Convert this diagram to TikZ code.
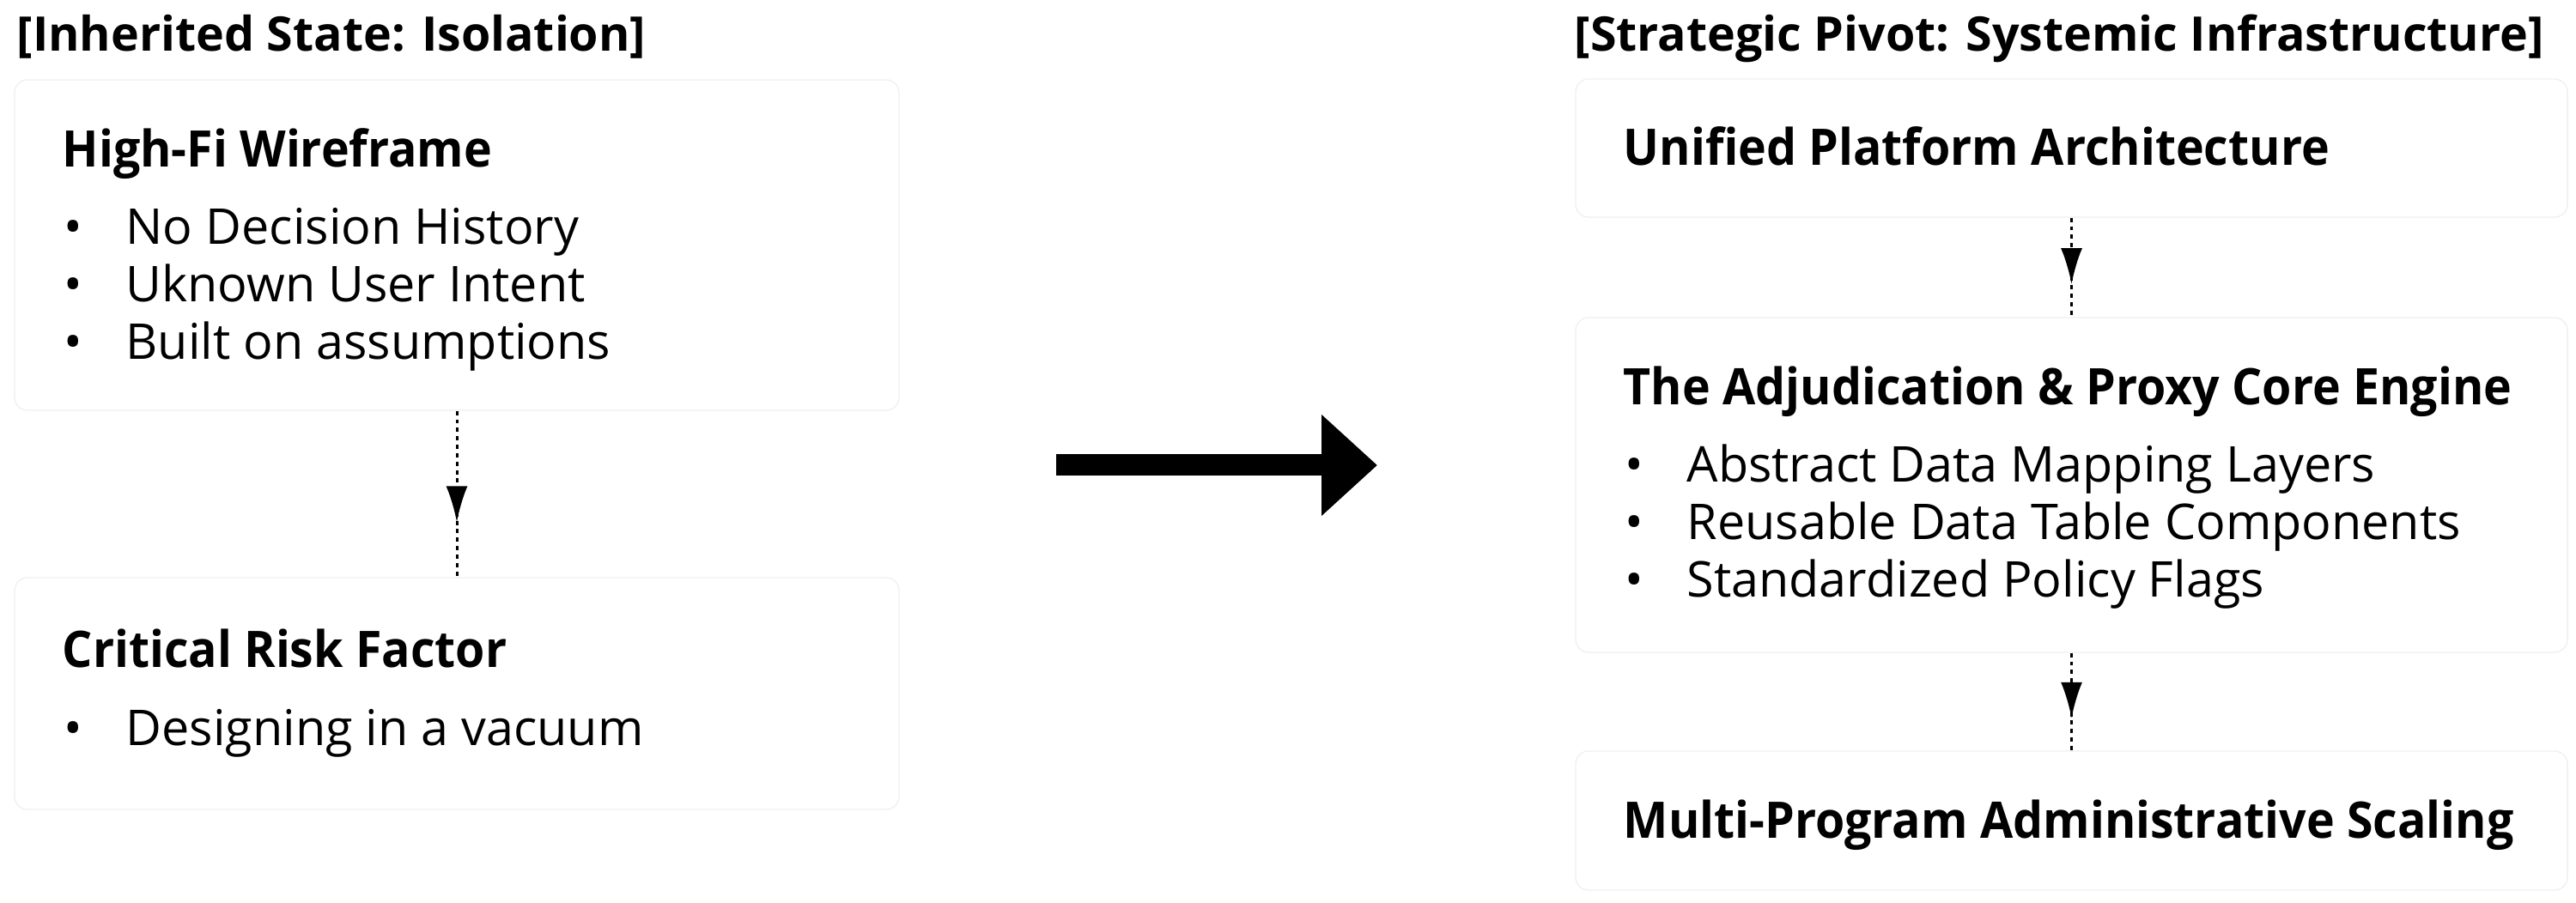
\documentclass[tikz,border=0pt]{standalone}
\usepackage{fontspec}
\setmainfont{Open Sans}
\newfontfamily\headfont{Open Sans}[FakeStretch=0.945]
\usetikzlibrary{arrows.meta, decorations.markings, positioning}

\tikzset{
    card/.style={draw=black!6, line width=0.4pt, rounded corners=1.5mm, inner sep=0pt},
    caption/.style={anchor=base west, inner sep=0pt, font=\bfseries\fontsize{15.8}{18}\selectfont},
    heading/.style={anchor=base west, inner sep=0pt, font=\headfont\bfseries\fontsize{16.7}{20}\selectfont},
    item/.style={anchor=base west, inner sep=0pt, font=\fontsize{16.35}{20}\selectfont},
    flow/.style={line width=0.85pt, dash pattern=on 1.4pt off 1.4pt, postaction={decorate},
        decoration={markings, mark=at position 0.67 with {\arrow{Latex[length=4.2mm,width=2.5mm]}}}},
    pivot/.style={line width=0.25cm, -{Triangle[length=6.5mm,width=11.4mm]}}
}
\newcommand{\bul}{\makebox[0.72cm][l]{•}}

\begin{document}
\begin{tikzpicture}
                        \useasboundingbox (0, 0) rectangle (30, -10.52);

                        \node[card, minimum width=10.30cm, minimum height=3.85cm] (wire) at (5.32, -2.855) {};
                        \node[card, minimum width=10.30cm, minimum height=2.70cm] (risk) at (5.32, -8.08) {};
                        \node[card, minimum width=11.55cm, minimum height=1.61cm] (unified) at (24.125, -1.725) {};
                        \node[card, minimum width=11.55cm, minimum height=3.90cm] (engine) at (24.125, -5.65) {};
                        \node[card, minimum width=11.55cm, minimum height=1.62cm] (scaling) at (24.125, -9.56) {};

                        \node[caption] (inherited) at (0.19, -0.60) {[Inherited State: Isolation]};
                        \node[caption] (strategic) at (18.33, -0.60) {[Strategic Pivot: Systemic Infrastructure]};

                        \node[heading] (wire-title) at (0.72, -1.95) {High-Fi Wireframe};
                        \foreach \txt [count=\i] in {No Decision History, Uknown User Intent, Built on assumptions}
                            \node[item] (wire-\i) at (0.74, {-2.85 - (\i - 1) * 0.67}) {\bul\txt};

                        \node[heading] (risk-title) at (0.72, -7.78) {Critical Risk Factor};
                        \node[item] (risk-1) at (0.74, -8.69) {\bul Designing in a vacuum};

                        \node[heading] (unified-title) at (18.90, -1.93) {Unified Platform Architecture};

                        \node[heading] (engine-title) at (18.90, -4.72) {The Adjudication \& Proxy Core Engine};
                        \foreach \txt [count=\i] in {Abstract Data Mapping Layers, Reusable Data Table Components, Standardized Policy Flags}
                            \node[item] (engine-\i) at (18.92, {-5.62 - (\i - 1) * 0.67}) {\bul\txt};

                        \node[heading] (scaling-title) at (18.90, -9.77) {Multi-Program Administrative Scaling};

                        \coordinate (pivot-from) at (12.30, -5.42);
                        \coordinate (pivot-to) at (16.04, -5.42);

                        \draw
                        (wire.south) edge[flow] (risk.north)
                        (unified.south) edge[flow] (engine.north)
                        (engine.south) edge[flow] (scaling.north)
                        (pivot-from) edge[pivot] (pivot-to);
                    \end{tikzpicture}
\end{document}
